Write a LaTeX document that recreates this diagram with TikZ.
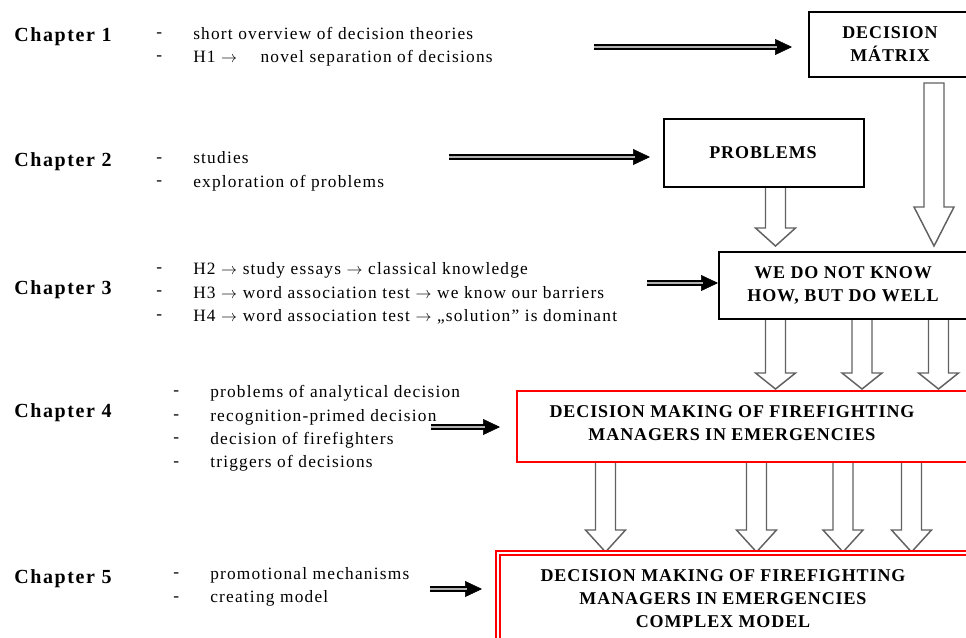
\documentclass[tikz,border=0pt]{standalone}
\usepackage{fontspec}
\setmainfont{Liberation Serif}
\newfontfamily\chapfont[LetterSpace=8]{Liberation Serif}
\newfontfamily\itemfont[LetterSpace=7]{Liberation Serif}
\newfontfamily\boxfont[LetterSpace=5]{Liberation Serif}
\usetikzlibrary{arrows.meta,calc}
\pgfdeclarelayer{behind}
\pgfsetlayers{behind,main}

% hollow downward block arrow between two boxes
% #1 upper box, #2 lower box, #3 x of the arrow axis,
% #4 gap below the upper box, #5 gap above the lower box, #6 head length
\newcommand\blockdown[6]{%
  \coordinate (bx) at (#3,0);
  \coordinate (bt) at ($(#1.south -| bx)+(0,#4)$);
  \coordinate (bp) at ($(#2.north -| bx)+(0,-#5)$);
  \draw[hollow] ($(bt)+(-10,0)$) -- ($(bp)+(-10,-#6)$) -- ($(bp)+(-20,-#6)$)
    -- (bp) -- ($(bp)+(20,-#6)$) -- ($(bp)+(10,-#6)$) -- ($(bt)+(10,0)$) -- cycle;}

% double-lined pointer with a solid head
\newcommand\pointer[2]{%
  \draw[headtip] (#1) -- (#2);
  \draw[shaft, shorten >=11pt] (#1) -- (#2);}

% arrow used inside the item lists
\newcommand\ra{$\rightarrow$}

\tikzset{
  chap/.style={anchor=west, inner sep=0pt, font=\chapfont\bfseries\fontsize{15}{17}\selectfont},
  items/.style={anchor=west, inner sep=0pt, align=left, font=\itemfont\fontsize{13}{17.6}\selectfont},
  boxtext/.style={inner sep=0pt, align=center, font=\boxfont\bfseries\fontsize{13.5}{17.25}\selectfont},
  box/.style={draw=black, line width=2.2pt, outer sep=0pt, inner sep=0pt, anchor=north west},
  redbox/.style={draw=red, line width=2.2pt, outer sep=0pt, inner sep=0pt, anchor=north west},
  dredbox/.style={draw=red, line width=1.1pt, double=white, double distance=2pt, outer sep=0pt, inner sep=0pt, anchor=north west},
  hollow/.style={draw=black!62, fill=white, line width=1.1pt, line join=miter},
  shaft/.style={draw=black, line width=1.3pt, double=black!30, double distance=1.4pt},
  headtip/.style={draw=black, line width=0.4pt, -{Triangle[length=12.75pt,width=12pt]}},
}

\begin{document}
\begin{tikzpicture}[x=0.75pt,y=-0.75pt]
\useasboundingbox (0,0) rectangle (966,638);
\clip (0,0) rectangle (966,638);

% chapter labels and their items
\node[chap] (c1) at (14,37) {Chapter 1};
\node[items] (d1) at (156,46.5) {-\\-};
\node[items] (i1) at (193,46.5) {short overview of decision theories\\H1 \ra\hspace{1.35em}novel separation of decisions};

\node[chap] (c2) at (14,162) {Chapter 2};
\node[items] (d2) at (156,171.5) {-\\-};
\node[items] (i2) at (193,171.5) {studies\\exploration of problems};

\node[chap] (c3) at (14,290) {Chapter 3};
\node[items] (d3) at (156,293.5) {-\\-\\-};
\node[items] (i3) at (193,293.5) {H2 \ra{} study essays \ra{} classical knowledge\\H3 \ra{} word association test \ra{} we know our barriers\\H4 \ra{} word association test \ra{} „solution” is dominant};

\node[chap] (c4) at (14,413) {Chapter 4};
\node[items] (d4) at (173,428.5) {-\\-\\-\\-};
\node[items] (i4) at (210,428.5) {problems of analytical decision\\recognition-primed decision\\decision of firefighters\\triggers of decisions};

\node[chap] (c5) at (14,579) {Chapter 5};
\node[items] (d5) at (173,587) {-\\-};
\node[items] (i5) at (210,587) {promotional mechanisms\\creating model};

% boxes
\node[box, minimum width=166*0.75pt, minimum height=65*0.75pt] (dm) at (809,12) {};
\node[boxtext] (dmt) at (890,44) {DECISION\\MÁTRIX};

\node[box, minimum width=200*0.75pt, minimum height=68*0.75pt] (pr) at (664,119) {};
\node[boxtext] (prt) at (763,153) {PROBLEMS};

\node[box, minimum width=256*0.75pt, minimum height=67*0.75pt] (wd) at (719,252) {};
\node[boxtext] (wdt) at (843,285) {WE DO NOT KNOW\\HOW, BUT DO WELL};

\node[redbox, minimum width=458*0.75pt, minimum height=71*0.75pt] (rb) at (517,391) {};
\node[boxtext] (rbt) at (732,423) {DECISION MAKING OF FIREFIGHTING\\MANAGERS IN EMERGENCIES};

\node[dredbox, minimum width=477*0.75pt, minimum height=100*0.75pt] (bb) at (498,553) {};
\node[boxtext] (bbt) at (723,599) {DECISION MAKING OF FIREFIGHTING\\MANAGERS IN EMERGENCIES\\COMPLEX MODEL};

% pointers from the chapters to the boxes
\coordinate (s1) at (594,47);
\coordinate (e1) at ($(dm.west |- s1)+(-17,0)$);
\coordinate (s2) at (449,157);
\coordinate (e2) at ($(pr.west |- s2)+(-14,0)$);
\coordinate (s3) at (647,283);
\coordinate (e3) at ($(wd.west |- s3)+(-1,0)$);
\coordinate (s4) at (431,427);
\coordinate (e4) at ($(rb.west |- s4)+(-17,0)$);
\coordinate (s5) at (430,589);
\coordinate (e5) at ($(bb.west |- s5)+(-16,0)$);
\pointer{s1}{e1}
\pointer{s2}{e2}
\pointer{s3}{e3}
\pointer{s4}{e4}
\pointer{s5}{e5}

% hollow arrows between the boxes
\begin{pgfonlayer}{behind}
\blockdown{dm}{wd}{934}{6}{6}{39}
\blockdown{pr}{wd}{775.5}{0}{6}{18}
\blockdown{wd}{rb}{775.5}{0}{2}{16}
\blockdown{wd}{rb}{862}{0}{2}{16}
\blockdown{wd}{rb}{938.5}{0}{2}{16}
\blockdown{rb}{bb}{605.5}{0}{1}{22}
\blockdown{rb}{bb}{756.5}{0}{1}{22}
\blockdown{rb}{bb}{843}{0}{1}{22}
\blockdown{rb}{bb}{911.5}{0}{1}{22}
\end{pgfonlayer}
\end{tikzpicture}
\end{document}
